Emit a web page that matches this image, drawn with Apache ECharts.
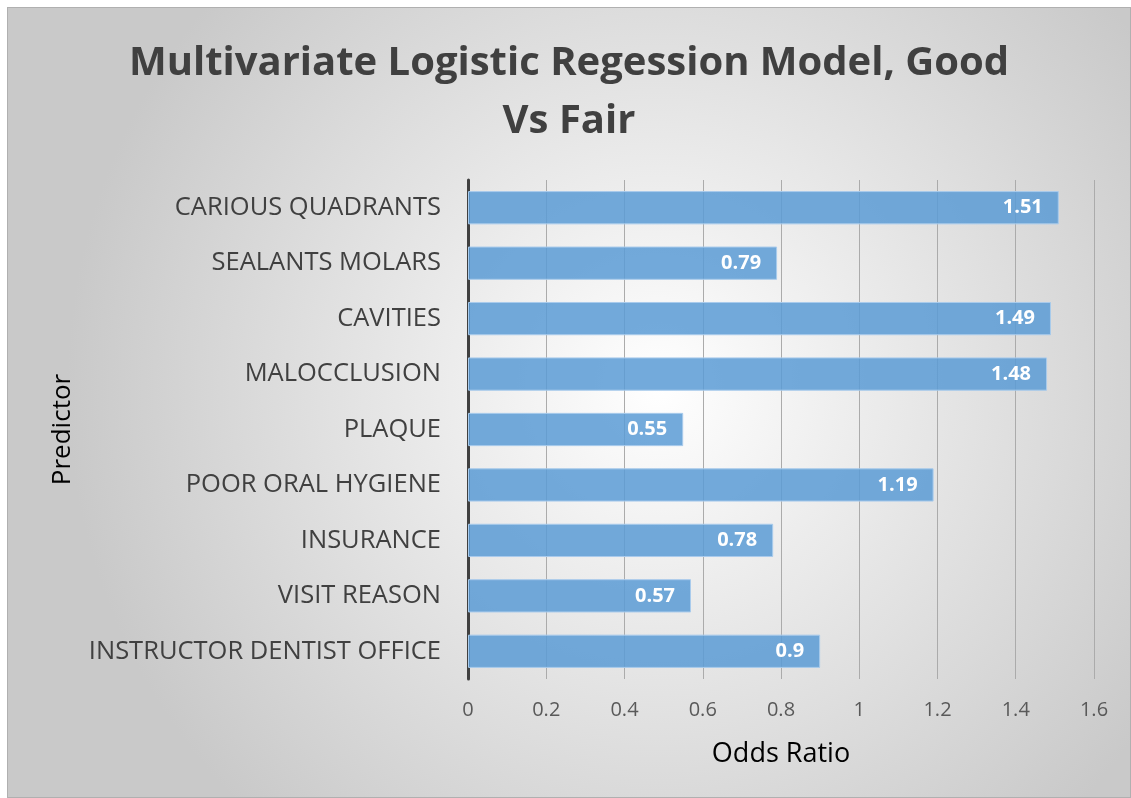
<!DOCTYPE html>
<html>
<head>
<meta charset="utf-8">
<script src="https://cdn.jsdelivr.net/npm/echarts@6/dist/echarts.min.js"></script>
<style>
  html, body { margin: 0; padding: 0; background: #fff; }
  #chart { position: absolute; left: 7px; top: 7px; width: 1124px; height: 791px; border: 1px solid #b0b0b0; box-sizing: border-box; }
</style>
</head>
<body>
<div id="chart"></div>
<script>
// predictors, bottom to top as drawn by the category axis
const predictors = ['INSTRUCTOR DENTIST OFFICE', 'VISIT REASON', 'INSURANCE', 'POOR ORAL HYGIENE',
  'PLAQUE', 'MALOCCLUSION', 'CAVITIES', 'SEALANTS MOLARS', 'CARIOUS QUADRANTS']
const oddsRatios = [0.9, 0.57, 0.78, 1.19, 0.55, 1.48, 1.49, 0.79, 1.51]
const xTicks = { min: 0, max: 1.6, interval: 0.2 }

const font = '"Open Sans", "Noto Sans", sans-serif'
let myChart = echarts.init(document.getElementById('chart'))

myChart.setOption({
  backgroundColor: {
    type: 'radial', x: 0.58, y: 0.48, r: 0.75,
    colorStops: [{ offset: 0, color: '#ffffff' }, { offset: 1, color: '#c9c9c9' }]
  },
  title: {
    text: 'Multivariate Logistic Regession Model, Good\nVs Fair',
    left: 'center', top: 22,
    textStyle: { fontFamily: font, fontWeight: 'bold', fontSize: 40, color: '#404040', lineHeight: 58 }
  },
  grid: { left: 460, right: 36, top: 172, bottom: 118 },
  xAxis: {
    type: 'value', min: xTicks.min, max: xTicks.max, interval: xTicks.interval,
    name: 'Odds Ratio', nameLocation: 'middle', nameGap: 62,
    nameTextStyle: { fontFamily: font, fontSize: 27, color: '#000' },
    axisLine: { show: false }, axisTick: { show: false },
    axisLabel: { fontFamily: font, fontSize: 20, color: '#595959', margin: 21 },
    splitLine: { lineStyle: { color: '#ababab', width: 1 } }
  },
  yAxis: {
    type: 'category', data: predictors,
    name: 'Predictor', nameLocation: 'middle', nameGap: 392, nameRotate: 90,
    nameTextStyle: { fontFamily: font, fontSize: 26, color: '#000' },
    axisLine: { lineStyle: { color: '#404040', width: 3 } },
    axisTick: { show: false },
    axisLabel: { fontFamily: font, fontSize: 25.5, color: '#404040', margin: 27 }
  },
  series: [{
    type: 'bar', data: oddsRatios, barCategoryGap: '40%',
    itemStyle: { color: 'rgba(91,155,213,0.85)', borderColor: '#a9cbec', borderWidth: 1 },
    label: {
      show: true, position: 'insideRight', distance: 16,
      fontFamily: font, fontWeight: 'bold', fontSize: 20, color: '#fff'
    }
  }]
})
window.addEventListener('resize', () => myChart.resize())
</script>
</body>
</html>
